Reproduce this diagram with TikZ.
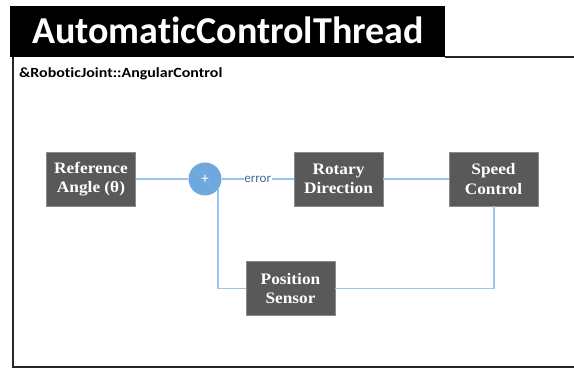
\documentclass[tikz,border=0pt]{standalone}
\usepackage{fontspec}
\setmainfont{Liberation Serif}
\newfontfamily\calib[Ligatures=NoCommon]{Carlito}
\newfontfamily\calibwide[Ligatures=NoCommon,FakeStretch=1.14]{Carlito}
\newfontfamily\blockfont[FakeStretch=1.08]{Liberation Serif}
\usetikzlibrary{calc}
\definecolor{boxgray}{HTML}{595959}
\definecolor{linkblue}{HTML}{9DC3E6}
\definecolor{sumblue}{HTML}{6FA8DC}
\definecolor{labelblue}{HTML}{44699A}
\tikzset{
  blockbox/.style={fill=boxgray, draw=boxgray!70, line width=0.6pt, text=white,
    minimum width=89pt, minimum height=54pt, inner sep=0pt, align=center,
    font=\blockfont\bfseries\fontsize{16}{19.3}\selectfont},
  link/.style={draw=linkblue, line width=1.5pt},
  frameline/.style={draw=black!85, line width=2pt}
}
\begin{document}
\begin{tikzpicture}[x=1pt,y=-1pt]
\useasboundingbox (0,0) rectangle (574,369);
% title banner
\fill[black] (10,6) rectangle (445,57);
\node[anchor=base west, text=white, font=\calib\bfseries\fontsize{38}{40}\selectfont, inner sep=0pt]
  (title) at (32,44) {AutomaticControlThread};
% frame
\draw[frameline] (445,57) -- (574,57);
\draw[frameline] (13,57) -- (13,367) -- (574,367);
\node[anchor=base west, font=\calibwide\bfseries\fontsize{14}{16}\selectfont, inner sep=0pt]
  (sub) at (19,78) {\&RoboticJoint::AngularControl};
% blocks
\node[blockbox] (ref) at (91,179) {Reference\\Angle (θ)};
\node[circle, fill=sumblue, minimum size=33pt, inner sep=0pt, text=white,
  font=\calib\fontsize{15}{15}\selectfont] (sum) at (205,179) {+};
\node[blockbox] (rot) at (338.5,179) {Rotary\\Direction};
\node[blockbox] (spd) at (493.5,179) {Speed\\Control};
\node[blockbox] (pos) at (290.5,288.5) {Position\\Sensor};
\coordinate (fbR) at (494,288.5);
\coordinate (fbL) at (218,288.5);
% connectors
\draw[link] (ref.east) -- (sum.west);
\draw[link] (sum.east) -- node[fill=white, inner xsep=0.5pt, inner ysep=1pt, text=labelblue,
  font=\calib\fontsize{13}{14}\selectfont] (err) {error} (rot.west);
\draw[link] (rot.east) -- (spd.west);
\draw[link] (spd.south -| fbR) -- (fbR) -- (pos.east);
\draw[link] (pos.west) -- (fbL) -- ($(sum.center)+(13,10)$);
\end{tikzpicture}
\end{document}
